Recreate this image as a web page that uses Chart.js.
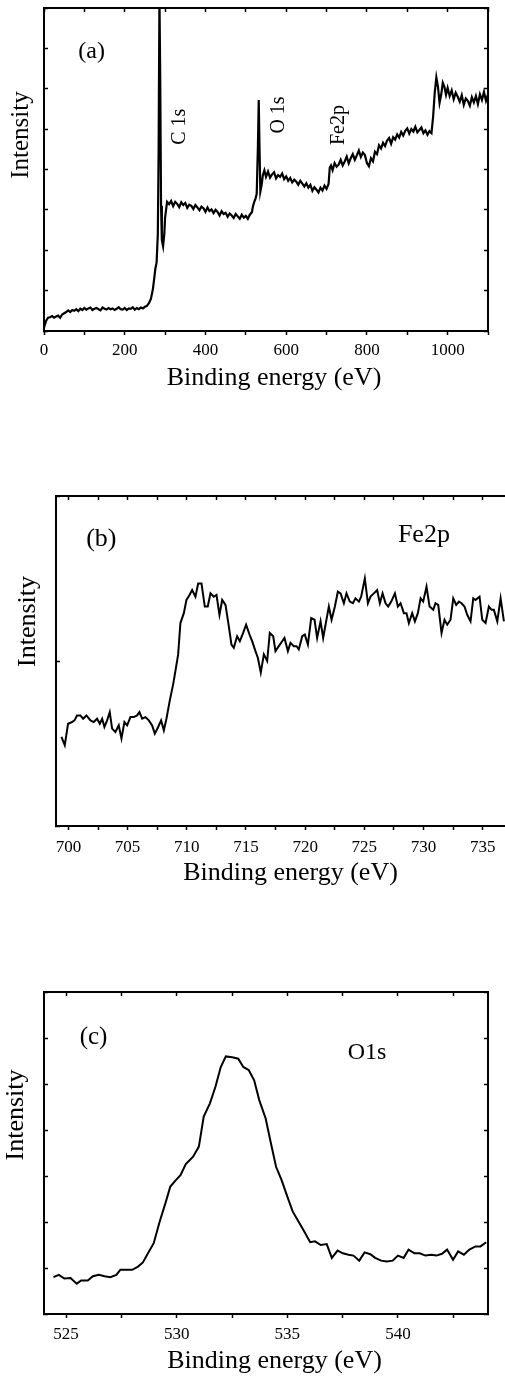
<!DOCTYPE html>
<html>
<head>
<meta charset="utf-8">
<script src="https://cdn.jsdelivr.net/npm/chart.js@4.4.1/dist/chart.umd.min.js"></script>
<style>
html,body{margin:0;padding:0;background:#fff;overflow:hidden;width:505px;height:1376px;}
.panel{position:absolute;left:0;}
canvas{display:block;}
</style>
</head>
<body>
<div class="panel" style="top:0px"><canvas id="ca" width="505" height="400"></canvas></div>
<div class="panel" style="top:460px"><canvas id="cb" width="515" height="440"></canvas></div>
<div class="panel" style="top:940px"><canvas id="cc" width="505" height="436"></canvas></div>
<script>
// ---------- Panel (a): survey spectrum ----------
const energiesA = [
  0,5,10,15,20,25,30,35,40,45,50,55,60,65,70,75,80,85,90,95,
  100,105,110,115,120,125,130,135,140,145,150,155,160,165,170,175,180,185,190,195,
  200,205,210,215,220,225,230,235,240,245,250,255,260,265,
  270,273,276,279,282,284,286,288,290,292,295,298,300,303,305,
  310,315,320,325,330,335,340,345,350,355,360,365,370,375,380,385,390,395,
  400,405,410,415,420,425,430,435,440,445,450,455,460,465,470,475,480,485,490,495,
  500,505,510,515,518,521,524,527,530,532,534,536,539,542,546,
  550,555,560,565,570,575,580,585,590,595,600,605,610,615,620,625,630,635,640,645,
  650,655,660,665,670,675,680,685,690,695,700,705,708,711,
  715,720,725,730,735,740,745,750,755,760,765,770,775,780,785,790,795,
  800,805,810,815,820,825,830,835,840,845,850,855,860,865,870,875,880,885,890,895,
  900,905,910,915,920,925,930,935,940,945,950,955,960,
  964,968,972,976,980,984,988,992,996,
  1000,1005,1010,1015,1020,1025,1030,1035,1040,1045,1050,1055,1060,1065,1070,1075,1080,1085,1090,1095,1100
];
const intensityA = [
  0.08,0.25,0.33,0.34,0.37,0.33,0.36,0.38,0.33,0.41,0.44,0.47,0.51,0.47,0.52,0.50,0.54,0.49,0.55,0.52,
  0.57,0.53,0.56,0.58,0.52,0.55,0.57,0.54,0.51,0.58,0.55,0.53,0.57,0.54,0.56,0.52,0.55,0.59,0.54,0.53,
  0.57,0.52,0.56,0.55,0.59,0.53,0.57,0.54,0.58,0.56,0.60,0.62,0.69,0.80,
  1.05,1.30,1.55,1.70,2.40,4.50,8.30,6.20,3.10,2.25,2.10,2.40,2.80,3.05,3.20,
  3.14,3.22,3.09,3.20,3.15,3.07,3.19,3.12,3.17,3.05,3.13,3.10,3.02,3.12,3.06,2.99,3.08,3.04,
  2.95,3.06,2.97,3.01,2.92,3.00,2.95,2.86,2.97,2.90,2.93,2.83,2.91,2.86,2.80,2.90,2.84,2.78,2.88,2.81,
  2.85,2.78,2.88,2.94,3.10,3.20,3.28,3.40,4.60,5.72,4.50,3.45,3.60,3.85,3.98,
  3.82,3.95,3.80,3.88,3.93,3.78,3.86,3.82,3.90,3.76,3.83,3.72,3.79,3.68,3.75,3.70,3.62,3.72,3.65,3.58,
  3.66,3.55,3.62,3.47,3.56,3.50,3.43,3.55,3.48,3.60,3.52,3.64,4.05,4.10,
  3.98,4.16,4.07,4.12,4.24,4.10,4.20,4.32,4.15,4.28,4.38,4.24,4.35,4.47,4.31,4.42,4.36,
  4.16,4.08,4.28,4.20,4.44,4.38,4.60,4.52,4.66,4.58,4.72,4.78,4.64,4.80,4.74,4.87,4.79,4.93,4.84,4.96,
  5.02,4.89,5.00,4.94,5.06,4.92,4.98,5.04,4.90,4.97,4.86,4.95,4.90,
  5.30,5.90,6.28,6.05,5.65,5.85,6.15,6.05,5.85,
  6.02,5.82,5.96,5.74,5.90,5.80,5.68,5.84,5.60,5.76,5.70,5.58,5.79,5.66,5.82,5.62,5.86,5.72,5.92,5.70,5.86
];

// ---------- Panel (b): Fe2p ----------
const energiesB = [
  699.41,699.69,699.97,700.31,700.51,700.73,701.01,701.24,701.52,701.86,
  702.14,702.42,702.65,702.85,703.04,703.27,703.49,703.69,703.97,704.25,
  704.48,704.73,704.96,705.24,705.52,705.80,706.00,706.23,706.51,706.79,
  707.07,707.30,707.58,707.83,708.06,708.28,708.56,708.85,709.04,709.27,
  709.46,709.75,709.97,710.23,710.45,710.73,710.96,711.24,711.52,711.77,
  712.00,712.28,712.51,712.76,712.99,713.27,713.55,713.77,713.97,714.25,
  714.48,714.76,715.01,715.30,715.52,715.80,716.00,716.25,716.51,716.79,
  717.01,717.30,717.49,717.77,718.06,718.25,718.54,718.76,719.04,719.27,
  719.46,719.75,719.97,720.23,720.51,720.79,721.01,721.30,721.52,721.72,
  722.00,722.23,722.51,722.76,722.99,723.27,723.49,723.77,724.03,724.25,
  724.54,724.73,725.04,725.30,725.52,725.80,726.08,726.31,726.54,726.79,
  727.01,727.27,727.58,727.83,728.06,728.34,728.56,728.76,729.04,729.27,
  729.52,729.75,729.97,730.25,730.51,730.82,731.01,731.24,731.52,731.77,
  732.00,732.28,732.51,732.76,732.99,733.21,733.46,733.69,733.97,734.20,
  734.39,734.73,734.96,735.24,735.52,735.75,735.94,736.23,736.51,736.79
];
const intensityB = [
  0.54,0.49,0.62,0.63,0.64,0.67,0.67,0.65,0.67,0.64,
  0.63,0.65,0.62,0.65,0.60,0.64,0.69,0.59,0.57,0.61,
  0.53,0.63,0.61,0.66,0.66,0.67,0.69,0.65,0.66,0.64,
  0.61,0.56,0.60,0.64,0.58,0.65,0.76,0.86,0.94,1.04,
  1.23,1.29,1.37,1.40,1.43,1.39,1.47,1.47,1.33,1.33,
  1.41,1.39,1.40,1.28,1.37,1.34,1.21,1.10,1.08,1.15,
  1.12,1.17,1.22,1.16,1.12,1.06,1.02,0.93,1.04,1.00,
  1.17,1.15,1.06,1.09,1.12,1.14,1.06,1.11,1.09,1.09,
  1.07,1.15,1.16,1.10,1.26,1.25,1.14,1.24,1.14,1.22,
  1.33,1.25,1.33,1.42,1.41,1.35,1.41,1.36,1.35,1.38,
  1.36,1.39,1.50,1.35,1.39,1.41,1.43,1.35,1.41,1.35,
  1.33,1.36,1.41,1.33,1.35,1.29,1.29,1.23,1.29,1.24,
  1.29,1.38,1.36,1.45,1.33,1.31,1.35,1.34,1.17,1.25,
  1.22,1.25,1.38,1.34,1.36,1.35,1.33,1.28,1.24,1.38,
  1.37,1.39,1.25,1.23,1.33,1.31,1.31,1.24,1.38,1.24
];

// ---------- Panel (c): O1s ----------
const energiesC = [
  524.43,524.67,524.92,525.20,525.48,525.68,525.98,526.21,526.48,526.74,
  527.00,527.27,527.45,527.72,527.99,528.25,528.47,528.70,528.96,529.23,
  529.49,529.71,529.94,530.17,530.41,530.74,531.00,531.22,531.50,531.75,
  531.99,532.22,532.51,532.78,533.01,533.26,533.50,533.73,534.02,534.24,
  534.49,534.74,535.00,535.24,535.53,535.77,536.03,536.25,536.51,536.78,
  537.01,537.27,537.51,537.76,537.99,538.25,538.49,538.75,538.97,539.24,
  539.50,539.76,540.00,540.26,540.48,540.74,540.98,541.24,541.50,541.74,
  541.99,542.22,542.49,542.72,542.98,543.23,543.50,543.73,543.99
];
const intensityC = [
  0.80,0.85,0.77,0.78,0.66,0.73,0.73,0.82,0.85,0.82,
  0.80,0.85,0.96,0.96,0.96,1.03,1.12,1.32,1.54,2.01,
  2.41,2.77,2.90,3.02,3.26,3.42,3.64,4.29,4.58,4.94,
  5.37,5.60,5.58,5.55,5.37,5.30,5.08,4.65,4.25,3.75,
  3.20,2.91,2.55,2.23,1.99,1.79,1.56,1.58,1.50,1.52,
  1.22,1.38,1.32,1.29,1.27,1.16,1.34,1.30,1.22,1.16,
  1.14,1.16,1.27,1.22,1.40,1.32,1.32,1.27,1.29,1.27,
  1.31,1.40,1.18,1.36,1.29,1.40,1.47,1.47,1.56
];

// ---------- Axis settings ----------
const xRangeA = [0, 1100], xStepA = 100, xLabelStepA = 200, yMaxA = 8;
const xRangeB = [698.95, 737.05], xStepB = 2.5, xLabelStepB = 5, yMaxB = 2;
const xRangeC = [524.0, 544.07], xStepC = 2.5, xLabelStepC = 5, yMaxC = 7;

const FONT = '"Liberation Serif", "Times New Roman", Times, serif';

const textPlugin = {
  id: 'panelText',
  afterDraw(chart, args, opts) {
    const ctx = chart.ctx;
    const sx = chart.scales.x, sy = chart.scales.y;
    for (const t of (opts.items || [])) {
      const px = (t.px !== undefined) ? t.px : sx.getPixelForValue(t.x);
      const py = (t.py !== undefined) ? t.py : sy.getPixelForValue(t.y);
      ctx.save();
      ctx.font = t.size + 'px ' + FONT;
      ctx.fillStyle = '#000';
      ctx.textAlign = 'center';
      ctx.textBaseline = 'alphabetic';
      ctx.translate(px, py);
      if (t.rot) ctx.rotate(-Math.PI / 2);
      ctx.fillText(t.text, 0, 0);
      ctx.restore();
    }
  }
};

function makePanel(id, xs, ys, xRange, xStep, xLabelStep, yMax, area, tickPad, lineWidth, rightTicks, texts) {
  const canvas = document.getElementById(id);
  const W = canvas.width, H = canvas.height;
  const borderOpt = { display: true, color: '#000', width: 2 };
  const inGrid = { drawOnChartArea: false, drawTicks: true, tickLength: -4, tickColor: '#000', tickWidth: 1.5 };
  const isLabel = v => Math.abs(v / xLabelStep - Math.round(v / xLabelStep)) < 1e-6;
  return new Chart(canvas, {
    type: 'line',
    data: {
      datasets: [{
        data: xs.map((x, i) => ({ x: x, y: ys[i] })),
        xAxisID: 'x', yAxisID: 'y',
        borderColor: '#000', borderWidth: lineWidth,
        pointRadius: 0, tension: 0, fill: false
      }]
    },
    options: {
      responsive: false, animation: false, devicePixelRatio: 1,
      layout: { padding: { top: area.top, right: W - area.right, left: 0, bottom: 0 } },
      plugins: { legend: { display: false }, tooltip: { enabled: false }, panelText: { items: texts } },
      scales: {
        x: {
          type: 'linear', position: 'bottom', min: xRange[0], max: xRange[1],
          afterFit: s => { s.height = H - area.bottom; },
          ticks: {
            stepSize: xStep, includeBounds: false, autoSkip: false, maxRotation: 0, minRotation: 0,
            color: '#000', font: { family: FONT, size: 17 }, padding: tickPad,
            callback: v => isLabel(v) ? String(Math.round(v)) : ''
          },
          grid: { drawOnChartArea: false, drawTicks: true, tickLength: 4, tickColor: '#000', tickWidth: 1.5 },
          border: borderOpt
        },
        x2: {
          type: 'linear', position: 'top', min: xRange[0], max: xRange[1],
          afterFit: s => { s.height = 0; },
          ticks: { display: false, stepSize: xStep, includeBounds: false, autoSkip: false },
          grid: inGrid, border: borderOpt
        },
        y: {
          type: 'linear', position: 'left', min: 0, max: yMax,
          afterFit: s => { s.width = area.left; },
          ticks: { display: false, stepSize: 1, autoSkip: false },
          grid: inGrid, border: borderOpt
        },
        y2: {
          type: 'linear', position: 'right', min: 0, max: yMax,
          afterFit: s => { s.width = 0; },
          ticks: { display: false, stepSize: 1, autoSkip: false },
          grid: Object.assign({}, inGrid, { drawTicks: rightTicks }), border: borderOpt
        }
      }
    },
    plugins: [textPlugin]
  });
}

makePanel('ca', energiesA, intensityA, xRangeA, xStepA, xLabelStepA, yMaxA,
  { left: 44, top: 8, right: 488, bottom: 331 }, 5, 2.2, true, [
    { text: 'Intensity', px: 28, py: 135, size: 25, rot: true },
    { text: 'Binding energy (eV)', px: 274, py: 385, size: 26 },
    { text: '(a)', x: 118, y: 6.77, size: 24 },
    { text: 'C 1s', x: 349, y: 5.06, size: 20, rot: true },
    { text: 'O 1s', x: 595, y: 5.35, size: 20, rot: true },
    { text: 'Fe2p', x: 743, y: 5.10, size: 20, rot: true }
  ]);

makePanel('cb', energiesB, intensityB, xRangeB, xStepB, xLabelStepB, yMaxB,
  { left: 56, top: 36, right: 507, bottom: 366 }, 7, 2, false, [
    { text: 'Intensity', px: 34.5, py: 161.5, size: 26, rot: true },
    { text: 'Binding energy (eV)', px: 290.5, py: 420, size: 26 },
    { text: '(b)', x: 702.78, y: 1.70, size: 26 },
    { text: 'Fe2p', x: 730.03, y: 1.72, size: 26 }
  ]);

makePanel('cc', energiesC, intensityC, xRangeC, xStepC, xLabelStepC, yMaxC,
  { left: 44, top: 52, right: 488, bottom: 374 }, 6, 2, true, [
    { text: 'Intensity', px: 22.7, py: 175, size: 26, rot: true },
    { text: 'Binding energy (eV)', px: 274.5, py: 428, size: 26 },
    { text: '(c)', x: 526.24, y: 5.88, size: 25 },
    { text: 'O1s', x: 538.6, y: 5.54, size: 24 }
  ]);
</script>
</body>
</html>
